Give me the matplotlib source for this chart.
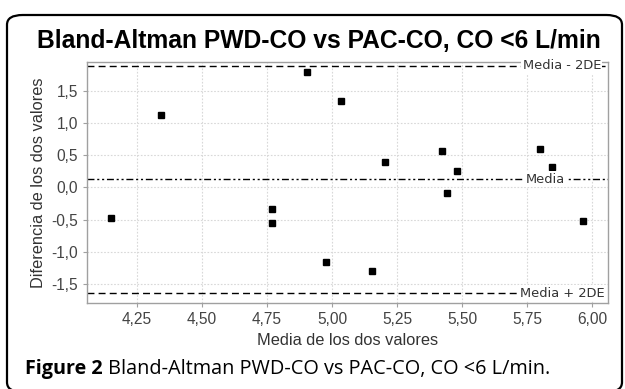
import matplotlib.pyplot as plt
from matplotlib.patches import FancyBboxPatch

# data
media_valores = [4.149, 4.341, 4.770, 4.770, 4.905, 4.977, 5.033, 5.153,
                 5.205, 5.423, 5.442, 5.480, 5.800, 5.846, 5.965]
diferencia = [-0.48, 1.13, -0.336, -0.55, 1.80, -1.157, 1.341, -1.302,
              0.396, 0.562, -0.082, 0.25, 0.603, 0.313, -0.523]
media_dif = 0.131
lim_sup = 1.895
lim_inf = -1.65
xticks = [4.25, 4.50, 4.75, 5.00, 5.25, 5.50, 5.75, 6.00]
yticks = [-1.5, -1.0, -0.5, 0.0, 0.5, 1.0, 1.5]

W, H = 625, 389
fig = plt.figure(figsize=(W / 100, H / 100), dpi=100)

# outer rounded frame (bottom edge falls just outside the image)
frame = FancyBboxPatch((7 / W, -3 / H), 615 / W, (389 - 15 + 3) / H,
                       boxstyle='round,pad=0,rounding_size=0.025',
                       transform=fig.transFigure, fill=False,
                       edgecolor='black', linewidth=1.6, zorder=0)
fig.patches.append(frame)

ax = fig.add_axes([87.3 / W, 1 - 303.3 / H, 521 / W, 241.6 / H])
ax.plot(media_valores, diferencia, 's', color='black', markersize=3.8, zorder=3)

ax.axhline(lim_sup, color='black', linestyle=(0, (5, 3)), linewidth=1.0)
ax.axhline(media_dif, color='black', linestyle=(0, (5, 2, 1.5, 2, 1.5, 2)), linewidth=1.0)
ax.axhline(lim_inf, color='black', linestyle=(0, (5, 3)), linewidth=1.0)

lbl = dict(fontsize=9.4, color='#333333', va='center', family='DejaVu Sans',
           bbox=dict(facecolor='white', edgecolor='none', pad=1.0))
ax.text(6.035, lim_sup, 'Media - 2DE', ha='right', **lbl)
ax.text(5.745, media_dif, 'Media', ha='left', **lbl)
ax.text(6.048, lim_inf, 'Media + 2DE', ha='right', **lbl)

ax.set_xlim(4.059, 6.063)
ax.set_ylim(-1.805, 1.958)
ax.set_xticks(xticks)
ax.set_xticklabels([f'{v:.2f}'.replace('.', ',') for v in xticks])
ax.set_yticks(yticks)
ax.set_yticklabels([f'{v:.1f}'.replace('.', ',') for v in yticks])
ax.grid(True, color='#d8d8d8', linestyle=(0, (1.5, 1.5)), linewidth=0.8)
ax.set_axisbelow(True)
for s in ax.spines.values():
    s.set_color('#a0a0a0')
    s.set_linewidth(1.0)
ax.tick_params(colors='#a0a0a0', labelcolor='#444444', length=3,
               labelsize=11.2)
for t in ax.get_xticklabels() + ax.get_yticklabels():
    t.set_family('Liberation Sans')

ax.set_xlabel('Media de los dos valores', fontsize=11.8, color='#333333',
              family='Liberation Sans', labelpad=4)
ax.set_ylabel('Diferencia de los dos valores', fontsize=11.8, color='#333333',
              family='Liberation Sans', labelpad=4)

fig.text(37 / W, 1 - 48 / H, 'Bland-Altman PWD-CO vs PAC-CO, CO <6 L/min',
         fontsize=17.7, fontweight='bold', family='Liberation Sans',
         ha='left', va='baseline')

fig.text(25 / W, 1 - 374 / H, 'Figure 2', fontsize=14.2, fontweight='bold',
         family='Open Sans', ha='left', va='baseline')
fig.text(108 / W, 1 - 374 / H, 'Bland-Altman PWD-CO vs PAC-CO, CO <6 L/min.',
         fontsize=14.3, family='Open Sans', ha='left', va='baseline')

fig.savefig('out.png', dpi=100)
